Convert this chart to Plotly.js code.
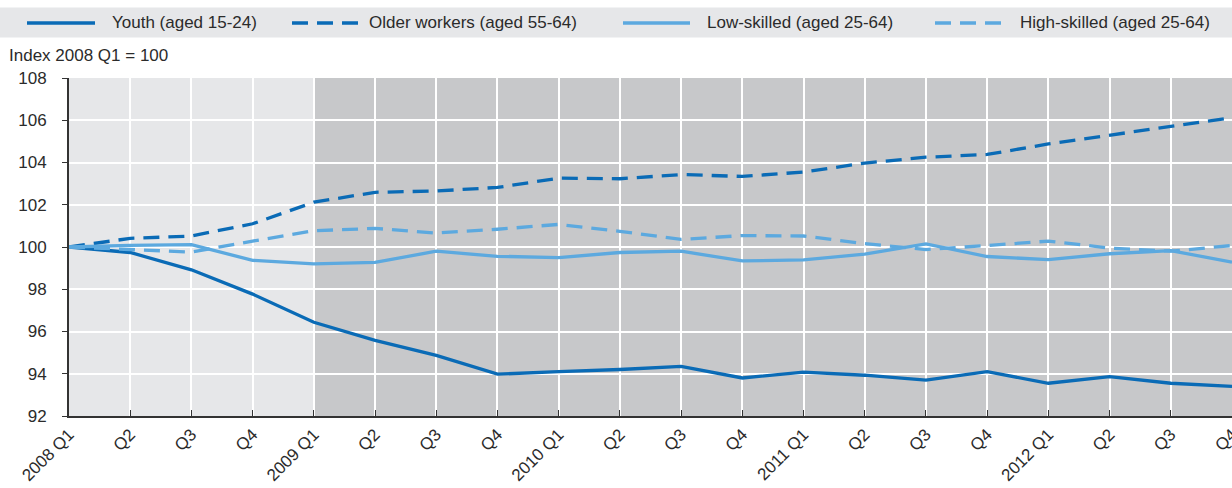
<!DOCTYPE html>
<html>
<head>
<meta charset="utf-8">
<script src="https://cdn.plot.ly/plotly-3.0.1.min.js"></script>
<style>html,body{margin:0;padding:0;background:#fff;}#chart{width:1232px;height:488px;}</style>
</head>
<body>
<div id="chart"></div>
<script>
// ---- data ----
var quarterLabels = ["2008 Q1","Q2","Q3","Q4","2009 Q1","Q2","Q3","Q4","2010 Q1","Q2","Q3","Q4","2011 Q1","Q2","Q3","Q4","2012 Q1","Q2","Q3","Q4"];
var seriesNames = ["Youth (aged 15-24)","Older workers (aged 55-64)","Low-skilled (aged 25-64)","High-skilled (aged 25-64)"];
var youth = [100, 99.74, 98.92, 97.77, 96.44, 95.58, 94.87, 93.98, 94.10, 94.20, 94.35, 93.80, 94.08, 93.93, 93.70, 94.10, 93.55, 93.86, 93.55, 93.40];
var older = [100, 100.41, 100.52, 101.10, 102.12, 102.59, 102.65, 102.82, 103.26, 103.23, 103.43, 103.34, 103.55, 103.97, 104.25, 104.38, 104.88, 105.30, 105.70, 106.12];
var lowSkilled = [100, 100.08, 100.11, 99.37, 99.20, 99.27, 99.80, 99.56, 99.50, 99.74, 99.80, 99.34, 99.39, 99.66, 100.15, 99.55, 99.40, 99.68, 99.83, 99.28];
var highSkilled = [100, 99.89, 99.76, 100.28, 100.77, 100.88, 100.66, 100.84, 101.07, 100.74, 100.36, 100.54, 100.52, 100.16, 99.88, 100.07, 100.28, 99.95, 99.80, 100.07];
var yTicks = [92, 94, 96, 98, 100, 102, 104, 106, 108];
var yAxisLabel = "Index 2008 Q1 = 100";

// ---- styling ----
var DARK = "#0a6bb6", LIGHT = "#5ca9df";
var FONT = "'Liberation Sans Narrow', 'Arial Narrow', 'Liberation Sans', Arial, sans-serif";
var FS = 17;
var TXT = "#2b2b2b";
var ML = 69, MR = 0, MT = 78, MB = 72, W = 1232, H = 488;
var PW = W - ML - MR, PH = H - MT - MB;
function px(x){ return (x - ML) / PW; }
function py(y){ return (H - MB - y) / PH; }

var xIdx = quarterLabels.map(function(_, i){ return i; });
var seriesData = [youth, older, lowSkilled, highSkilled];
var colors = [DARK, DARK, LIGHT, LIGHT];
var dashes = ["solid", "16px,9px", "solid", "16px,9px"];

var traces = seriesData.map(function(d, i){
  return {x: xIdx, y: d, type: "scatter", mode: "lines", name: seriesNames[i],
    line: {color: colors[i], width: 3.3, dash: dashes[i]}, showlegend: false, hoverinfo: "skip"};
});

var shapes = [
  {type: "rect", xref: "x", yref: "paper", x0: 0, x1: 4, y0: 0, y1: 1, fillcolor: "#e6e7e9", line: {width: 0}, layer: "below"},
  {type: "rect", xref: "x", yref: "paper", x0: 4, x1: 20, y0: 0, y1: 1, fillcolor: "#c7c8ca", line: {width: 0}, layer: "below"},
  {type: "rect", xref: "paper", yref: "paper", x0: px(0), x1: px(1232), y0: py(7.5), y1: py(37.5), fillcolor: "#e6e7e9", line: {width: 0}, layer: "below"}
];
var legendPos = [[27, 95, 112], [292, 358, 369], [623, 690, 707], [935, 1002, 1020]];
var annotations = [
  {xref: "paper", yref: "paper", x: px(7), y: py(55), xanchor: "left", yanchor: "middle", text: yAxisLabel, showarrow: false,
   font: {family: FONT, size: FS, color: TXT}}
];
legendPos.forEach(function(p, i){
  shapes.push({type: "line", xref: "paper", yref: "paper", x0: px(p[0]), x1: px(p[1]), y0: py(23), y1: py(23),
    line: {color: colors[i], width: 3.3, dash: dashes[i]}});
  annotations.push({xref: "paper", yref: "paper", x: px(p[2] - 2), y: py(23), xanchor: "left", yanchor: "middle",
    text: seriesNames[i], showarrow: false, font: {family: FONT, size: FS, color: TXT}});
});

var layout = {
  width: W, height: H,
  margin: {l: ML, r: MR, t: MT, b: MB, pad: 0},
  paper_bgcolor: "#ffffff", plot_bgcolor: "rgba(0,0,0,0)",
  showlegend: false,
  font: {family: FONT, size: FS, color: TXT},
  xaxis: {
    range: [0, 19], tickmode: "array", tickvals: xIdx, ticktext: quarterLabels, tickangle: -45,
    ticklabeloverflow: "allow",
    showgrid: true, gridcolor: "#ffffff", gridwidth: 2,
    showline: true, linecolor: "#333333", linewidth: 2,
    ticks: "inside", ticklen: 6, tickcolor: "#333333", tickwidth: 1,
    tickfont: {family: FONT, size: FS, color: TXT}, zeroline: false, fixedrange: true
  },
  yaxis: {
    range: [92, 108], tickmode: "array", tickvals: yTicks,
    showgrid: true, gridcolor: "#ffffff", gridwidth: 2,
    showline: true, linecolor: "#333333", linewidth: 2,
    ticks: "outside", ticklen: 5, tickcolor: "#333333", tickwidth: 1,
    ticklabelstandoff: 12,
    tickfont: {family: FONT, size: FS, color: TXT}, zeroline: false, fixedrange: true
  },
  shapes: shapes,
  annotations: annotations
};

Plotly.newPlot("chart", traces, layout, {displayModeBar: false, staticPlot: true});
</script>
</body>
</html>
